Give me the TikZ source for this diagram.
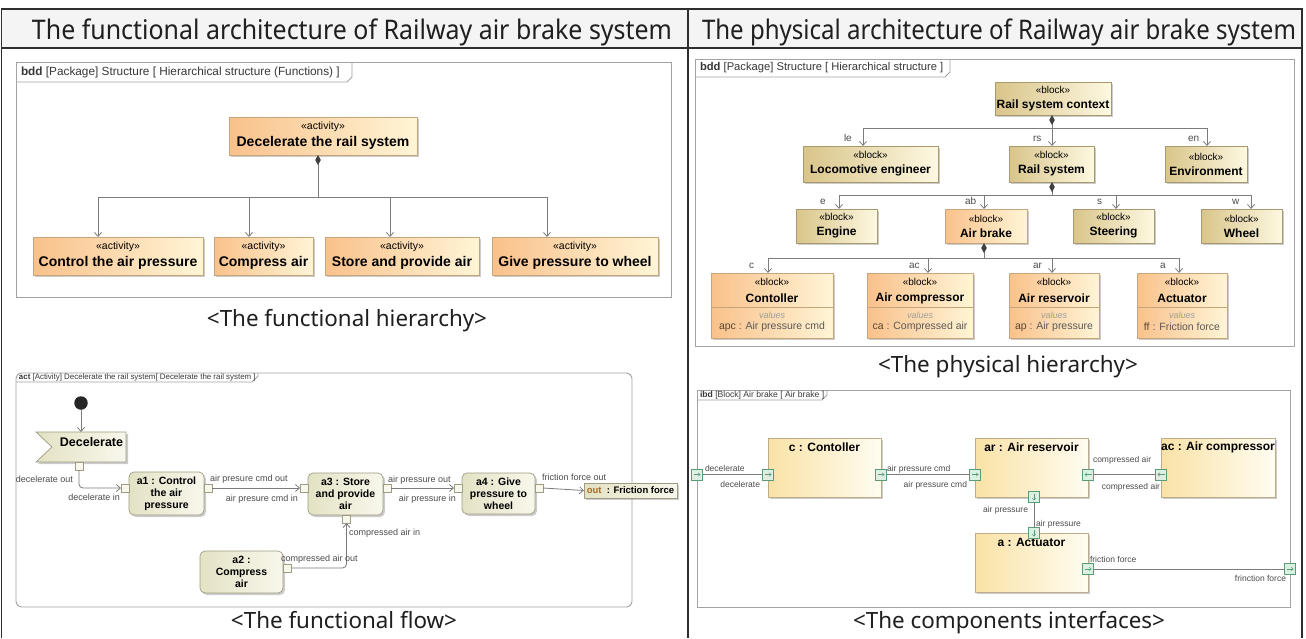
\documentclass[tikz,border=0pt]{standalone}
\usepackage{fontspec}
\usepackage{graphicx}
\setmainfont{Liberation Sans}
\newfontfamily\capfont{Noto Sans}
\usetikzlibrary{arrows.meta,shadows,calc}

\definecolor{tblline}{HTML}{2E2E2E}
\definecolor{hdrbg}{HTML}{F4F4F4}
\definecolor{frameline}{HTML}{A3A3A3}
\definecolor{oraL}{HTML}{F9C18B}
\definecolor{oraR}{HTML}{FFF5D6}
\definecolor{oraB}{HTML}{C7A57C}
\definecolor{khaL}{HTML}{D9C58A}
\definecolor{khaR}{HTML}{FDF8E1}
\definecolor{khaB}{HTML}{A8996F}
\definecolor{actL}{HTML}{E4E2C4}
\definecolor{actR}{HTML}{F8F7EC}
\definecolor{actB}{HTML}{9E9C82}
\definecolor{partL}{HTML}{F9E2A6}
\definecolor{partR}{HTML}{FFFCF1}
\definecolor{partB}{HTML}{BCAC88}
\definecolor{portF}{HTML}{DAF0E2}
\definecolor{portB}{HTML}{5A9C76}
\definecolor{conn}{HTML}{7C7C7C}
\definecolor{lbl}{HTML}{4C4C4C}
\definecolor{pinname}{HTML}{B0691C}
\definecolor{attrname}{HTML}{5B4630}

\newcommand\fsize[2]{\fontsize{#1}{#2}\selectfont}

\tikzset{
  every node/.style={inner sep=0pt, outer sep=0pt},
  hdrtxt/.style={font=\capfont\fsize{27}{30}, anchor=base, text=black!88},
  captxt/.style={font=\capfont\fsize{22.4}{26}, anchor=base, text=black!88},
  sysframe/.style={rectangle, draw=frameline, line width=0.9pt},
  tabline/.style={draw=frameline, line width=0.8pt},
  tabtxt/.style={anchor=west, text=black!78},
  boxshadow/.style={drop shadow={shadow xshift=2pt, shadow yshift=-2pt, fill=black, opacity=0.2}},
  funcbox/.style={rectangle, draw=oraB, line width=0.6pt, left color=oraL, right color=oraR, boxshadow, align=center, font=\fsize{14}{17}, minimum height=38},
  khabox/.style={rectangle, draw=khaB, line width=0.6pt, left color=khaL, right color=khaR, boxshadow, align=center, font=\fsize{12}{15}},
  orabox/.style={rectangle, draw=oraB, line width=0.6pt, left color=oraL, right color=oraR, boxshadow, align=center, font=\fsize{12}{15}},
  stereo/.style={font=\fsize{10}{12}},
  wire/.style={draw=conn, line width=0.8pt},
  tohead/.style={arrows={-Straight Barb[length=4pt,width=7pt]}},
  compo/.style={arrows={Diamond[length=10pt,width=5.5pt,color=black!75]-}},
  role/.style={font=\fsize{10}{12}, text=lbl, anchor=base west, xshift=-19pt, yshift=5pt},
  actbox/.style={rectangle, rounded corners=5, draw=actB, line width=0.7pt, left color=actL, right color=actR, boxshadow, align=center, font=\fsize{10.5}{12}\bfseries},
  actpin/.style={rectangle, draw=actB, fill=actR, line width=0.6pt, minimum size=8},
  flowlbl/.style={font=\fsize{9}{11}, text=lbl},
  ibpart/.style={rectangle, draw=partB, line width=0.6pt, left color=partL, right color=partR, boxshadow, minimum width=113, minimum height=59},
  parttitle/.style={font=\fsize{12}{14}\bfseries},
  ibport/.style={rectangle, draw=portB, fill=portF, line width=0.6pt, minimum size=11},
  portlbl/.style={font=\fsize{8.5}{10}, text=lbl},
}

% block with a values compartment
\newcommand\PhyPart[5]{%
  \node[orabox, minimum width=#3, minimum height=65] (#1) at (#2,305.5) {};
  \node[stereo] at ($(#1.north)+(0,9)$) {«block»};
  \node[font=\fsize{12}{14}\bfseries] at ($(#1.north)+(0,25)$) {#4};
  \draw[oraB, line width=0.6pt] ($(#1.north west)+(0,34)$) -- ($(#1.north east)+(0,34)$);
  \node[font=\fsize{9}{11}\itshape, text=black!38] at ($(#1.north)+(0,42)$) {values};
  \node[font=\fsize{10.5}{12}, text=black!65] at ($(#1.north)+(0,54)$) {#5};
}
% direction glyph drawn inside a flow port
\newcommand\PortGlyph[3]{%
  \draw[portB, line width=0.6pt, arrows={-Straight Barb[length=1.8pt,width=3.4pt]}]
    ($(#1.center)-(#2,#3)$) -- ($(#1.center)+(#2,#3)$);
}

\begin{document}
\begin{tikzpicture}[x=1pt, y=-1pt]
\useasboundingbox (0,0) rectangle (1306,638);
\fill[white] (0,0) rectangle (1306,638);

% ---------- table ----------
\fill[hdrbg] (1.5,9) rectangle (1302,48);
\draw[tblline, line width=1.4pt] (1.5,638) -- (1.5,9) -- (1302,9) -- (1302,638);
\draw[tblline, line width=1.8pt] (1.5,48) -- (1302,48);
\draw[tblline, line width=1.4pt] (688,9) -- (688,638);
\node[hdrtxt] (hL) at (352,39.5) {\resizebox{640pt}{\height}{The functional architecture of Railway air brake system}};
\node[hdrtxt] (hR) at (999,39.5) {\resizebox{594pt}{\height}{The physical architecture of Railway air brake system}};

% ---------- functional hierarchy ----------
\node[sysframe, minimum width=655, minimum height=235] (frA) at (343.5,179.5) {};
\draw[tabline] ($(frA.north west)+(0,20)$) -- ++(331,0) -- ++(5,-5) -- ++(0,-15);
\node[tabtxt, font=\fsize{11.8}{13}] (tabA) at ($(frA.north west)+(5,10)$) {\textbf{bdd} [Package] Structure [ Hierarchical structure (Functions) ]};

\node[funcbox, minimum width=188] (ftop) at (323,136) {{\fsize{10.5}{12}«activity»}\\\textbf{Decelerate the rail system}};
\node[funcbox, minimum width=170] (fa1) at (118,256) {{\fsize{10.5}{12}«activity»}\\\textbf{Control the air pressure}};
\node[funcbox, minimum width=99] (fa2) at (263.5,256) {{\fsize{10.5}{12}«activity»}\\\textbf{Compress air}};
\node[funcbox, minimum width=154] (fa3) at (402,256) {{\fsize{10.5}{12}«activity»}\\\textbf{Store and provide air}};
\node[funcbox, minimum width=166] (fa4) at (575,256) {{\fsize{10.5}{12}«activity»}\\\textbf{Give pressure to wheel}};

\coordinate (fbar) at (318,197);
\draw[wire, tohead] (fbar) -| ($(fa1.north)+(-20,0)$);
\draw[wire, tohead] (fbar) -| ($(fa2.north)+(-14.5,0)$);
\draw[wire, tohead] (fbar) -| ($(fa3.north)+(-12,0)$);
\draw[wire, tohead] (fbar) -| ($(fa4.north)+(-28,0)$);
\draw[wire, compo] (ftop.south -| fbar) -- (fbar);

\node[captxt] (capA) at (347,326) {\resizebox{280pt}{\height}{<The functional hierarchy>}};

% ---------- functional flow ----------
\node[sysframe, rounded corners=6, minimum width=616, minimum height=234] (frB) at (324,490) {};
\draw[tabline] ($(frB.north west)+(0,9)$) -- ++(236,0) -- ++(6,-6) -- ++(0,-3);
\node[tabtxt, font=\fsize{7.9}{9}] (tabB) at ($(frB.north west)+(3,4.6)$) {\textbf{act} [Activity] Decelerate the rail system[ Decelerate the rail system ]};

\node[circle, fill=black!85, minimum size=13.5] (init) at (81,403) {};
\node[minimum width=90, minimum height=30] (dec) at (81,447) {};
\path[draw=actB, line width=0.7pt, left color=actL, right color=actR, boxshadow]
  (dec.north west) -- (dec.north east) -- (dec.south east) -- (dec.south west) -- ($(dec.west)+(16,0)$) -- cycle;
\node[font=\fsize{12.5}{14}\bfseries] (dect) at ($(dec.center)+(10.5,-5)$) {Decelerate};
\node[actpin] (pdout) at (79,466) {};

\node[actbox, minimum width=75, minimum height=43] (a1) at (166.5,493.5) {a1 : Control\\the air\\pressure};
\node[actpin] (pa1in) at (125,488) {};
\node[actpin] (pa1out) at (208,488) {};
\node[actbox, minimum width=75, minimum height=42] (a3) at (345.5,494) {a3 : Store\\and provide\\air};
\node[actpin] (pa3in) at (304,488) {};
\node[actpin] (pa3out) at (387,488) {};
\node[actpin] (pa3bot) at (346.5,519) {};
\node[actbox, minimum width=73, minimum height=41] (a4) at (498.5,493.5) {a4 : Give\\pressure to\\wheel};
\node[actpin] (pa4in) at (458,488) {};
\node[actpin] (pa4out) at (539,488) {};
\node[actbox, minimum width=83, minimum height=42] (a2) at (241.5,572) {a2 :\\Compress\\air};
\node[actpin] (pa2out) at (287,568) {};
\node[rectangle, draw=actB, line width=0.6pt, left color=actL, right color=actR, boxshadow,
      minimum width=93, minimum height=15, font=\fsize{9.5}{11}\bfseries] (outp) at (630.5,490.5)
      {\textcolor{pinname}{out}\ \ : Friction force};

\draw[wire, tohead] (init.south) -- (init.south |- dec.north);
\draw[wire, tohead, rounded corners=4] (pdout.south) |- (pa1in.west);
\draw[wire, tohead] (pa1out.east) -- (pa3in.west);
\draw[wire, tohead] (pa3out.east) -- (pa4in.west);
\draw[wire, tohead] (pa4out.east) -- (outp.west);
\draw[wire, tohead, rounded corners=4] (pa2out.east) -| (pa3bot.south);

\node[flowlbl, anchor=base east] at (73,482) {decelerate out};
\node[flowlbl, anchor=base east] at (120,500) {decelerate in};
\node[flowlbl, anchor=base west] at (210,481) {air presure cmd out};
\node[flowlbl, anchor=base east] at (298,501) {air presure cmd in};
\node[flowlbl, anchor=base west] at (388,482) {air pressure out};
\node[flowlbl, anchor=base east] at (456,501) {air pressure in};
\node[flowlbl, anchor=base west] at (542,480) {friction force out};
\node[flowlbl, anchor=base west] at (281,561) {compressed air out};
\node[flowlbl, anchor=base west] at (349,535) {compressed air in};

\node[captxt] (capB) at (344,628) {\resizebox{226pt}{\height}{<The functional flow>}};

% ---------- physical hierarchy ----------
\node[sysframe, minimum width=599, minimum height=287] (frC) at (994.5,202.5) {};
\draw[tabline] ($(frC.north west)+(0,18)$) -- ++(250,0) -- ++(5,-5) -- ++(0,-13);
\node[tabtxt, font=\fsize{11.2}{13}] (tabC) at ($(frC.north west)+(5,9)$) {\textbf{bdd} [Package] Structure [ Hierarchical structure ]};

\node[khabox, minimum width=116, minimum height=33] (p0) at (1053,98.5) {{\fsize{10}{12}«block»}\\\textbf{Rail system context}};
\node[khabox, minimum width=135, minimum height=36] (ple) at (870.5,164) {{\fsize{10}{12}«block»}\\\textbf{Locomotive engineer}};
\node[khabox, minimum width=85, minimum height=36] (prs) at (1051.5,164) {{\fsize{10}{12}«block»}\\\textbf{Rail system}};
\node[khabox, minimum width=82, minimum height=36] (pen) at (1206,164) {{\fsize{10}{12}«block»}\\\textbf{Environment}};
\node[khabox, minimum width=81, minimum height=34] (pe) at (836.5,226) {{\fsize{10}{12}«block»}\\\textbf{Engine}};
\node[orabox, minimum width=82, minimum height=34] (pab) at (986,226) {{\fsize{10}{12}«block»}\\\textbf{Air brake}};
\node[khabox, minimum width=81, minimum height=34] (ps) at (1113.5,226) {{\fsize{10}{12}«block»}\\\textbf{Steering}};
\node[khabox, minimum width=81, minimum height=34] (pw) at (1241.5,226) {{\fsize{10}{12}«block»}\\\textbf{Wheel}};
\PhyPart{pc}{772}{122}{Contoller}{\textcolor{attrname}{apc} : Air pressure cmd}
\PhyPart{pac}{920}{106}{Air compressor}{\textcolor{attrname}{ca} : Compressed air}
\PhyPart{par}{1054}{90}{Air reservoir}{\textcolor{attrname}{ap} : Air pressure}
\PhyPart{pa}{1182}{90}{Actuator}{\textcolor{attrname}{ff} : Friction force}

\coordinate (pbar1) at (1052,128);
\draw[wire, tohead] (pbar1) -| ($(ple.north)+(-7.5,0)$) node[role] {le};
\draw[wire, tohead] (pbar1) -- (prs.north -| pbar1) node[role] {rs};
\draw[wire, tohead] (pbar1) -| ($(pen.north)+(1,0)$) node[role] {en};
\draw[wire, compo] (p0.south -| pbar1) -- (pbar1);

\coordinate (pbar2) at (1052,195);
\draw[wire, tohead] (pbar2) -| ($(pe.north)+(2.5,0)$) node[role] {e};
\draw[wire, tohead] (pbar2) -| ($(pab.north)+(-2,0)$) node[role] {ab};
\draw[wire, tohead] (pbar2) -| ($(ps.north)+(2.5,0)$) node[role] {s};
\draw[wire, tohead] (pbar2) -| ($(pw.north)+(9.5,0)$) node[role] {w};
\draw[wire, compo] (prs.south -| pbar2) -- (pbar2);

\coordinate (pbar3) at (984,258);
\draw[wire, tohead] (pbar3) -| ($(pc.north)+(-4,0)$) node[role] {c};
\draw[wire, tohead] (pbar3) -| ($(pac.north)+(8,0)$) node[role] {ac};
\draw[wire, tohead] (pbar3) -| ($(par.north)+(-2,0)$) node[role] {ar};
\draw[wire, tohead] (pbar3) -| ($(pa.north)+(-3,0)$) node[role] {a};
\draw[wire, compo] (pab.south -| pbar3) -- (pbar3);

\node[captxt] (capC) at (1008,372) {\resizebox{260pt}{\height}{<The physical hierarchy>}};

% ---------- component interfaces ----------
\node[sysframe, minimum width=593, minimum height=217] (frD) at (993.5,498.5) {};
\draw[tabline] ($(frD.north west)+(0,10)$) -- ++(125,0) -- ++(5,-5) -- ++(0,-5);
\node[tabtxt, font=\fsize{8.6}{10}] (tabD) at ($(frD.north west)+(3,5)$) {\textbf{ibd} [Block] Air brake [ Air brake ]};

\node[ibpart] (ic) at (824.5,467.5) {};
\node[ibpart] (iar) at (1031.5,467.5) {};
\node[ibpart, minimum width=114] (iac) at (1218,467.5) {};
\node[ibpart] (ia) at (1031.5,562.5) {};
\node[parttitle] at ($(ic.north)+(0,9.5)$) {c : Contoller};
\node[parttitle] at ($(iar.north)+(0,9.5)$) {ar : Air reservoir};
\node[parttitle] at ($(iac.north)+(0,9.5)$) {ac : Air compressor};
\node[parttitle] at ($(ia.north)+(0,9.5)$) {a : Actuator};

\coordinate (wy) at (0,474.5);
\coordinate (wy2) at (0,569);
\node[ibport] (pf1) at (frD.west |- wy) {};
\node[ibport] (pc1) at (ic.west |- wy) {};
\node[ibport] (pc2) at (ic.east |- wy) {};
\node[ibport] (pr1) at (iar.west |- wy) {};
\node[ibport] (pr2) at (iar.east |- wy) {};
\node[ibport] (pk1) at (iac.west |- wy) {};
\node[ibport] (pr3) at ($(iar.south)+(2.5,0)$) {};
\node[ibport] (pt1) at ($(ia.north)+(2.5,0)$) {};
\node[ibport] (pt2) at (ia.east |- wy2) {};
\node[ibport] (pf2) at (frD.east |- wy2) {};
\PortGlyph{pf1}{3.5}{0}
\PortGlyph{pc1}{3.5}{0}
\PortGlyph{pc2}{3.5}{0}
\PortGlyph{pr1}{3.5}{0}
\PortGlyph{pr2}{-3.5}{0}
\PortGlyph{pk1}{-3.5}{0}
\PortGlyph{pr3}{0}{3.5}
\PortGlyph{pt1}{0}{3.5}
\PortGlyph{pt2}{3.5}{0}
\PortGlyph{pf2}{3.5}{0}

\draw[wire] (pf1.east) -- (pc1.west);
\draw[wire] (pc2.east) -- (pr1.west);
\draw[wire] (pr2.east) -- (pk1.west);
\draw[wire] (pr3.south) -- (pt1.north);
\draw[wire] (pt2.east) -- (pf2.west);

\node[portlbl, anchor=base west] at (705,471) {decelerate};
\node[portlbl, anchor=base east] at (760,487) {decelerate};
\node[portlbl, anchor=base west] at (887,471) {air pressure cmd};
\node[portlbl, anchor=base east] at (967,487) {air pressure cmd};
\node[portlbl, anchor=base west] at (1093,462) {compressed air};
\node[portlbl, anchor=base east] at (1160,489) {compressed air};
\node[portlbl, anchor=base east] at (1028,512) {air pressure};
\node[portlbl, anchor=base west] at (1036,526) {air pressure};
\node[portlbl, anchor=base west] at (1090,562) {friction force};
\node[portlbl, anchor=base east] at (1286,581) {frinction force};

\node[captxt] (capD) at (1009,628) {\resizebox{312pt}{\height}{<The components interfaces>}};
\end{tikzpicture}
\end{document}
